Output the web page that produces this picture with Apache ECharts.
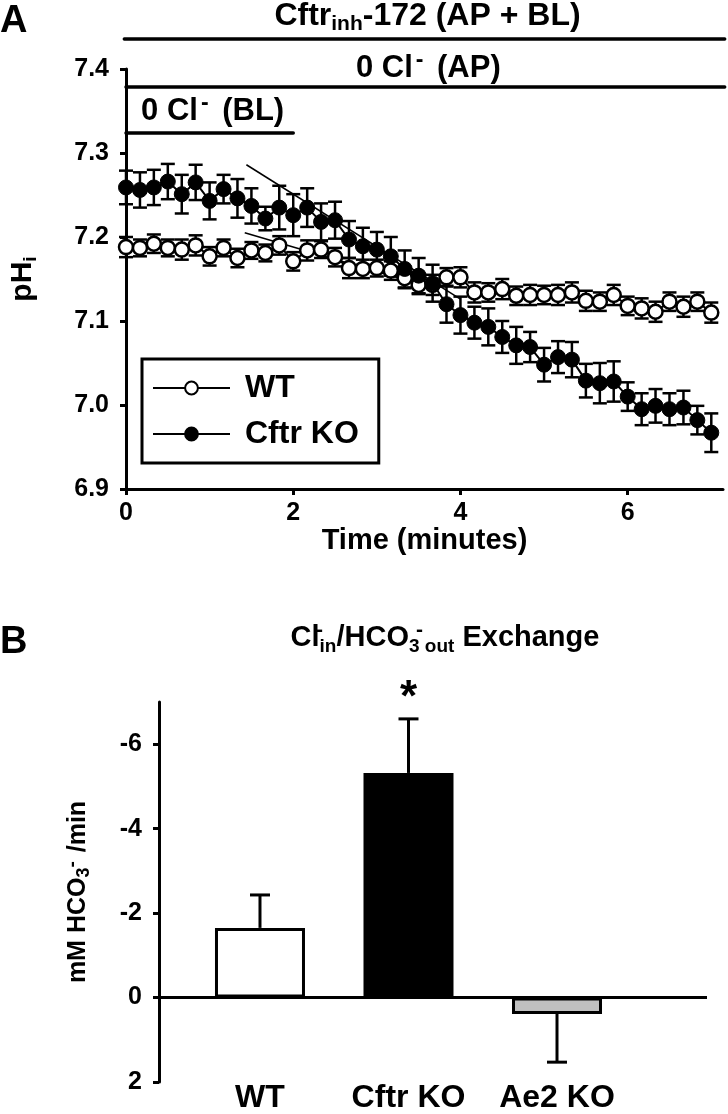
<!DOCTYPE html>
<html>
<head>
<meta charset="utf-8">
<script src="https://cdn.jsdelivr.net/npm/echarts@6/dist/echarts.min.js"></script>
<style>html,body{margin:0;padding:0;background:#fff}#c{width:728px;height:1114px}</style>
</head>
<body>
<div id="c"></div>
<script>
// ---------- Panel A data ----------
const timeMin = [0,0.167,0.333,0.5,0.667,0.833,1,1.167,1.333,1.5,1.667,1.833,2,2.167,2.333,2.5,2.667,2.833,3,3.167,3.333,3.5,3.667,3.833,4,4.167,4.333,4.5,4.667,4.833,5,5.167,5.333,5.5,5.667,5.833,6,6.167,6.333,6.5,6.667,6.833,7];
const wtPH = [7.188,7.187,7.192,7.187,7.185,7.190,7.177,7.187,7.175,7.184,7.181,7.190,7.171,7.184,7.185,7.176,7.163,7.162,7.163,7.160,7.151,7.143,7.143,7.152,7.152,7.134,7.134,7.138,7.130,7.131,7.131,7.131,7.134,7.124,7.123,7.131,7.118,7.115,7.111,7.123,7.117,7.123,7.110];
const wtErr = [0.012,0.010,0.011,0.010,0.012,0.012,0.011,0.010,0.011,0.010,0.010,0.011,0.011,0.012,0.010,0.011,0.012,0.011,0.010,0.011,0.012,0.011,0.012,0.011,0.012,0.012,0.011,0.012,0.011,0.012,0.011,0.012,0.012,0.012,0.011,0.012,0.011,0.012,0.012,0.011,0.012,0.011,0.012];
const koPH = [7.259,7.256,7.259,7.266,7.251,7.265,7.243,7.257,7.246,7.237,7.222,7.235,7.226,7.235,7.218,7.220,7.197,7.189,7.185,7.177,7.162,7.154,7.145,7.120,7.107,7.098,7.093,7.081,7.071,7.069,7.048,7.057,7.054,7.029,7.026,7.028,7.010,6.995,6.999,6.995,6.997,6.982,6.967];
const koErr = [0.020,0.021,0.021,0.021,0.023,0.021,0.022,0.017,0.023,0.021,0.014,0.026,0.025,0.023,0.022,0.022,0.022,0.022,0.021,0.023,0.022,0.021,0.022,0.022,0.022,0.019,0.022,0.019,0.022,0.018,0.020,0.019,0.021,0.020,0.024,0.024,0.017,0.019,0.020,0.019,0.020,0.017,0.023];
const wtFit = [[1.42,7.205],[3.3,7.150]];
const koFit = [[1.44,7.286],[4.0,7.126]];
const yTicksA = [6.9,7.0,7.1,7.2,7.3,7.4];
const xTicksA = [0,2,4,6];
// treatment bars: label, start (min), end (min)
const treatLabels = ['{m|Cftr}{s|inh}{m|-172 (AP + BL)}','{m|0 Cl}{p|-}{m| (AP)}','{m|0 Cl}{p|-}{m| (BL)}'];
const treatStart = [-0.02,0,0];
const treatEnd = [7.16,7.16,2.0];

// ---------- Panel B data ----------
const groups = ['WT','Cftr KO','Ae2 KO'];
const groupPos = [1,2,3];
const exchMean = [-1.65,-5.32,0.39];
const exchErr = [0.78,1.28,1.14];
const yTicksB = [-6,-4,-2,0,2];

const FF = '"Liberation Sans", Arial, sans-serif';
const chart = echarts.init(document.getElementById('c'), null, {renderer:'canvas'});

const axisLineStyle = {color:'#000', width:3};
const lbl = (size) => ({color:'#000', fontSize:size, fontWeight:'bold', fontFamily:FF});

const errA = (vals, errs) => timeMin.map((t,i)=>[t, vals[i], errs[i]]);
function renderErrA(params, api){
  const t = api.value(0), v = api.value(1), e = api.value(2);
  const top = api.coord([t, v+e]), bot = api.coord([t, v-e]);
  const hw = 7;
  const st = {stroke:'#000', lineWidth:2.5};
  return {type:'group', children:[
    {type:'line', shape:{x1:top[0],y1:top[1],x2:bot[0],y2:bot[1]}, style:st},
    {type:'line', shape:{x1:top[0]-hw,y1:top[1],x2:top[0]+hw,y2:top[1]}, style:st},
    {type:'line', shape:{x1:bot[0]-hw,y1:bot[1],x2:bot[0]+hw,y2:bot[1]}, style:st}
  ]};
}
function renderErrB(params, api){
  const x = api.value(0), m = api.value(1), e = api.value(2);
  const end = m + (m < 0 ? -e : e);
  const a = api.coord([x, m]), b = api.coord([x, end]);
  const hw = 10;
  const st = {stroke:'#000', lineWidth:3};
  return {type:'group', children:[
    {type:'line', shape:{x1:a[0],y1:a[1],x2:b[0],y2:b[1]}, style:st},
    {type:'line', shape:{x1:b[0]-hw,y1:b[1],x2:b[0]+hw,y2:b[1]}, style:st}
  ]};
}

const barColors = ['#ffffff','#000000','#c0c0c0'];
const barBorders = [3,0,3];

chart.setOption({
  animation:false,
  backgroundColor:'#fff',
  grid:[
    {left:119, top:69, width:604, height:420},
    {left:159, top:702, width:548, height:383}
  ],
  legend:{
    data:['WT','Cftr KO'], orient:'vertical', left:142, top:359,
    itemWidth:77, itemHeight:16, itemGap:8,
    padding:[10,20,10,10], borderColor:'#000', borderWidth:3,
    textStyle:Object.assign(lbl(32),{padding:[0,0,0,10], lineHeight:38})
  },
  xAxis:[
    {type:'value', gridIndex:0, min:0, max:7.14,
     axisLine:{lineStyle:axisLineStyle},
     axisTick:{customValues:xTicksA, length:6, lineStyle:{color:'#000',width:3}},
     axisLabel:Object.assign(lbl(25),{customValues:xTicksA, margin:12}),
     splitLine:{show:false},
     name:'Time (minutes)', nameLocation:'middle', nameGap:37,
     nameTextStyle:lbl(29)},
    {type:'value', gridIndex:1, min:0.32, max:4.01,
     axisLine:{show:false, onZero:false},
     axisTick:{show:false},
     axisLabel:Object.assign(lbl(32),{customValues:groupPos, margin:0,
       formatter:(v)=>groups[Math.round(v)-1]}),
     splitLine:{show:false}}
  ],
  yAxis:[
    {type:'value', gridIndex:0, min:6.9, max:7.4, interval:0.1,
     axisLine:{lineStyle:axisLineStyle},
     axisTick:{customValues:yTicksA, length:6, lineStyle:{color:'#000',width:3}},
     axisLabel:Object.assign(lbl(25),{customValues:yTicksA, margin:17, formatter:(v)=>v.toFixed(1)}),
     splitLine:{show:false},
     name:'{m|pH}{s|i}', nameLocation:'middle', nameGap:86, nameRotate:90,
     nameTextStyle:{rich:{
       m:{fontSize:30,fontWeight:'bold',fontFamily:FF,color:'#000',lineHeight:34,verticalAlign:'middle'},
       s:{fontSize:19,fontWeight:'bold',fontFamily:FF,color:'#000',lineHeight:14,verticalAlign:'bottom'}}}},
    {type:'value', gridIndex:1, inverse:true, min:-7, max:2,
     axisLine:{lineStyle:axisLineStyle},
     axisTick:{customValues:yTicksB, length:6, lineStyle:{color:'#000',width:3}},
     axisLabel:Object.assign(lbl(25),{customValues:yTicksB, margin:17}),
     splitLine:{show:false},
     name:'{m|mM HCO}{s|3}{p|-}{m| /min}', nameLocation:'middle', nameGap:66, nameRotate:90,
     nameTextStyle:{rich:{
       m:{fontSize:25,fontWeight:'bold',fontFamily:FF,color:'#000',lineHeight:30,verticalAlign:'middle'},
       s:{fontSize:18,fontWeight:'bold',fontFamily:FF,color:'#000',lineHeight:13,verticalAlign:'bottom'},
       p:{fontSize:19,fontWeight:'bold',fontFamily:FF,color:'#000',lineHeight:12,verticalAlign:'top',padding:[0,2,0,0]}}}}
  ],
  series:[
    {type:'custom', xAxisIndex:0, yAxisIndex:0, renderItem:renderErrA, data:errA(wtPH,wtErr), z:1, silent:true},
    {type:'custom', xAxisIndex:0, yAxisIndex:0, renderItem:renderErrA, data:errA(koPH,koErr), z:1, silent:true},
    {type:'line', xAxisIndex:0, yAxisIndex:0, data:wtFit, symbol:'none', lineStyle:{color:'#000',width:1.5}, z:2, silent:true},
    {type:'line', xAxisIndex:0, yAxisIndex:0, data:koFit, symbol:'none', lineStyle:{color:'#000',width:1.5}, z:2, silent:true},
    {name:'WT', type:'line', xAxisIndex:0, yAxisIndex:0, data:timeMin.map((t,i)=>[t,wtPH[i]]),
     symbol:'circle', symbolSize:14, lineStyle:{color:'#000',width:2},
     itemStyle:{color:'#fff', borderColor:'#000', borderWidth:2.5}, z:3},
    {name:'Cftr KO', type:'line', xAxisIndex:0, yAxisIndex:0, data:timeMin.map((t,i)=>[t,koPH[i]]),
     symbol:'circle', symbolSize:15, lineStyle:{color:'#000',width:2},
     itemStyle:{color:'#000', borderColor:'#000', borderWidth:1}, z:4},
    {type:'bar', xAxisIndex:1, yAxisIndex:1, barWidth:90,
     data:groupPos.map((p,i)=>({value:[p,exchMean[i]], itemStyle:{color:barColors[i], borderColor:'#000', borderWidth:barBorders[i]}})),
     markLine:{silent:true, symbol:'none', label:{show:false}, lineStyle:{color:'#000',width:3,type:'solid'}, data:[{yAxis:0}]},
     z:2},
    {type:'custom', xAxisIndex:1, yAxisIndex:1, renderItem:renderErrB,
     data:groupPos.map((p,i)=>[p,exchMean[i],exchErr[i]]), z:1, silent:true}
  ]
});

// annotations placed through the axis scales
const px = (t,v)=>chart.convertToPixel({xAxisIndex:0,yAxisIndex:0},[t,v]);
const pxB = (x,v)=>chart.convertToPixel({xAxisIndex:1,yAxisIndex:1},[x,v]);
const treatLineY = [39,87,133];
const treatTextY = [16,68,111];
const treatSize = [32,31,31];
const g = [];
treatLabels.forEach((lab,i)=>{
  const fs = treatSize[i];
  const rich = {
    m:{fontSize:fs,fontWeight:'bold',fontFamily:FF,fill:'#000',color:'#000',lineHeight:38,verticalAlign:'middle'},
    s:{fontSize:Math.round(fs*0.65),fontWeight:'bold',fontFamily:FF,fill:'#000',color:'#000',lineHeight:12,verticalAlign:'bottom'},
    p:{fontSize:Math.round(fs*0.75),fontWeight:'bold',fontFamily:FF,fill:'#000',color:'#000',lineHeight:10,verticalAlign:'top',padding:[0,5,0,3]}
  };
  const a = px(treatStart[i],7.4), b = px(treatEnd[i],7.4);
  g.push({type:'line', shape:{x1:a[0],y1:treatLineY[i],x2:b[0],y2:treatLineY[i]},
          style:{stroke:'#000', lineWidth:3.5, lineCap:'round'}});
  g.push({type:'text', x:(a[0]+b[0])/2+3, y:treatTextY[i],
          style:{text:lab, rich:rich, align:'center', verticalAlign:'middle', textAlign:'center', textVerticalAlign:'middle', fill:'#000'}});
});
g.push({type:'text', x:0, y:22, style:{text:'A', font:'bold 38px '+FF, fill:'#000', verticalAlign:'middle', textVerticalAlign:'middle'}});
g.push({type:'text', x:0, y:643, style:{text:'B', font:'bold 38px '+FF, fill:'#000', verticalAlign:'middle', textVerticalAlign:'middle'}});
const richB = {
  m:{fontSize:29,fontWeight:'bold',fontFamily:FF,fill:'#000',color:'#000',lineHeight:36,verticalAlign:'middle'},
  s:{fontSize:19,fontWeight:'bold',fontFamily:FF,fill:'#000',color:'#000',lineHeight:12,verticalAlign:'bottom'},
  p:{fontSize:21,fontWeight:'bold',fontFamily:FF,fill:'#000',color:'#000',lineHeight:10,verticalAlign:'top',width:0}
};
g.push({type:'text', x:445, y:638, style:{text:'{m|Cl}{p|-}{s|in}{m|/HCO}{s|3}{p|-}{s| out}{m| Exchange}', rich:richB,
  align:'center', verticalAlign:'middle', textAlign:'center', textVerticalAlign:'middle', fill:'#000'}});
const koTop = pxB(groupPos[1], exchMean[1]-exchErr[1]);
g.push({type:'text', x:koTop[0], y:koTop[1]-20, style:{text:'*', font:'bold 44px '+FF, fill:'#000',
  align:'center', verticalAlign:'middle', textAlign:'center', textVerticalAlign:'middle'}});
chart.setOption({graphic:g});
</script>
</body>
</html>
